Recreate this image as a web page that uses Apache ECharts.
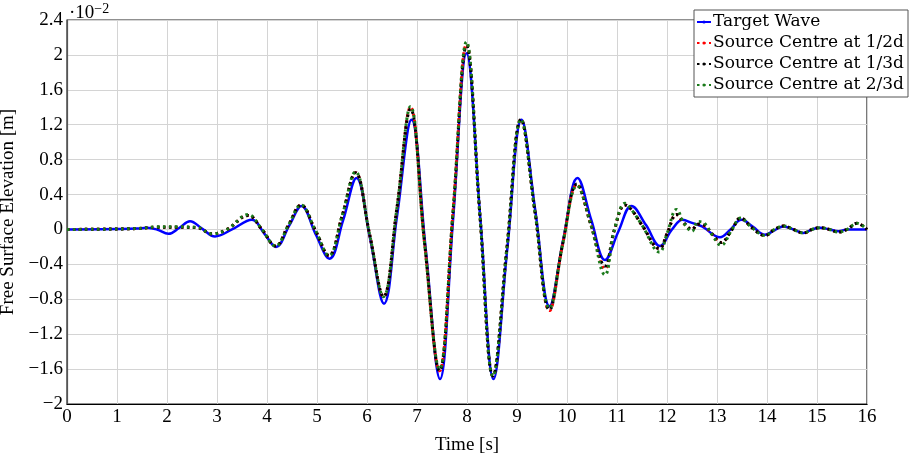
<!DOCTYPE html>
<html>
<head>
<meta charset="utf-8">
<script src="https://cdn.jsdelivr.net/npm/echarts@6/dist/echarts.min.js"></script>
<style>
  html, body { margin: 0; padding: 0; background: #fff; }
  #chart { width: 910px; height: 458px; }
</style>
</head>
<body>
<div id="chart"></div>
<script>
// values in units of 1e-2 m
let targetT = [0, 1.0, 1.4, 1.6, 1.8, 2.03, 2.25, 2.46, 2.7, 2.96, 3.3, 3.7, 3.95, 4.18, 4.45, 4.69, 4.97, 5.25, 5.52, 5.79, 6.06, 6.34, 6.6, 6.89, 7.17, 7.46, 7.72, 7.99, 8.27, 8.53, 8.81, 9.09, 9.37, 9.65, 9.93, 10.21, 10.49, 10.76, 11.03, 11.29, 11.58, 11.86, 12.1, 12.31, 12.5, 12.7, 13.06, 13.27, 13.49, 13.72, 13.96, 14.15, 14.33, 14.53, 14.73, 14.9, 15.06, 15.25, 15.43, 15.6, 16];
let targetV = [0, 0.005, 0.01, 0.02, 0.0, -0.05, 0.02, 0.095, 0.01, -0.08, 0.0, 0.11, -0.05, -0.2, 0.05, 0.27, -0.05, -0.335, 0.1, 0.59, -0.1, -0.85, 0.15, 1.257, -0.2, -1.714, 0.1, 2.02, 0.1, -1.714, -0.2, 1.257, 0.2, -0.88, -0.1, 0.59, 0.1, -0.35, -0.02, 0.27, 0.05, -0.19, 0.0, 0.11, 0.075, 0.035, -0.09, 0.0, 0.11, 0.03, -0.06, -0.01, 0.035, 0.0, -0.04, 0.0, 0.02, 0.0, -0.02, 0, 0];

let srcT = [0, 1.4, 1.8, 2.2, 2.6, 2.9, 3.2, 3.62, 3.9, 4.17, 4.43, 4.68, 4.96, 5.24, 5.5, 5.77, 6.05, 6.33, 6.6, 6.87, 7.15, 7.45, 7.72, 7.99, 8.26, 8.52, 8.8, 9.08, 9.36, 9.65, 9.92, 10.2, 10.48, 10.76, 10.95, 11.16, 11.3, 11.5, 11.85, 12.0, 12.19, 12.35, 12.5, 12.62, 12.75, 12.9, 13.08, 13.3, 13.47, 13.7, 13.96, 14.15, 14.33, 14.53, 14.73, 14.9, 15.06, 15.25, 15.43, 15.6, 15.8, 16];
let halfV = [0, 0.01, 0.025, 0.025, 0.02, -0.05, 0.0, 0.16, 0.0, -0.19, 0.05, 0.28, 0.0, -0.3, 0.15, 0.65, -0.05, -0.77, 0.25, 1.40, -0.15, -1.62, 0.2, 2.12, 0.15, -1.68, -0.2, 1.26, 0.2, -0.93, -0.15, 0.51, 0.05, -0.45, 0.0, 0.28, 0.22, 0.05, -0.22, -0.05, 0.17, 0.06, 0.0, 0.06, 0.04, -0.05, -0.15, 0.0, 0.13, 0.02, -0.07, 0.0, 0.04, 0.0, -0.04, 0.0, 0.02, 0.0, -0.03, 0.0, 0.07, 0.0];
let thirdV = [0, 0.01, 0.025, 0.025, 0.02, -0.05, 0.0, 0.16, 0.0, -0.19, 0.05, 0.28, 0.0, -0.3, 0.15, 0.65, -0.05, -0.77, 0.25, 1.38, -0.15, -1.62, 0.2, 2.1, 0.15, -1.68, -0.2, 1.26, 0.2, -0.92, -0.15, 0.52, 0.05, -0.42, 0.0, 0.28, 0.22, 0.05, -0.22, -0.05, 0.17, 0.07, 0.0, 0.06, 0.05, -0.05, -0.15, 0.0, 0.13, 0.02, -0.07, 0.0, 0.04, 0.0, -0.04, 0.0, 0.02, 0.0, -0.03, 0.0, 0.07, 0.0];
let twoThirdV = [0, 0.01, 0.03, 0.03, 0.025, -0.05, 0.0, 0.17, 0.0, -0.19, 0.05, 0.28, 0.0, -0.3, 0.15, 0.66, -0.05, -0.77, 0.25, 1.41, -0.15, -1.6, 0.2, 2.15, 0.15, -1.68, -0.2, 1.26, 0.2, -0.9, -0.15, 0.5, 0.05, -0.52, 0.0, 0.3, 0.22, 0.05, -0.26, -0.05, 0.23, 0.06, -0.02, 0.09, 0.07, -0.06, -0.18, 0.0, 0.13, 0.02, -0.07, 0.0, 0.04, 0.0, -0.04, 0.0, 0.02, 0.0, -0.03, 0.0, 0.07, 0.0];

function zip(t, v) {
    return t.map((x, i) => [x, v[i]]);
}

let serif = 'Liberation Serif';

function fmt(v) {
    let r = Math.round(v * 10) / 10;
    return r < 0 ? '\u2212' + Math.abs(r) : String(r);
}

let chartDom = document.getElementById('chart');
let myChart = echarts.init(chartDom);

function dotted(name, color, data) {
    return {
        name: name,
        type: 'line',
        smooth: 0.4,
        symbol: 'none',
        data: data,
        lineStyle: {
            color: color,
            width: 3,
            type: [2.5, 3.5],
            cap: 'butt'
        },
        itemStyle: { color: color }
    };
}

let option = {
    animation: false,
    title: {
        text: '{a|\u00b710}{b|\u22122}',
        left: 64,
        top: -3,
        textStyle: {
            fontWeight: 'normal',
            rich: {
                a: { fontFamily: serif, fontSize: 19, color: '#000', fontWeight: 'normal' },
                b: { fontFamily: serif, fontSize: 14, color: '#000', fontWeight: 'normal', verticalAlign: 'top', padding: [0, 0, 8, 0] }
            }
        }
    },
    legend: {
        orient: 'vertical',
        right: 2,
        top: 10,
        itemWidth: 14,
        itemHeight: 4,
        itemGap: 1,
        padding: [2, 4, 2, 2],
        backgroundColor: '#fff',
        borderColor: '#555',
        borderWidth: 1,
        textStyle: { fontFamily: 'DejaVu Serif', fontSize: 17, lineHeight: 20, color: '#000', padding: [0, 0, 0, -3] },
        data: ['Target Wave', 'Source Centre at 1/2d', 'Source Centre at 1/3d', 'Source Centre at 2/3d']
    },
    grid: {
        left: 67,
        right: 43,
        top: 20,
        bottom: 54,
        outerBoundsMode: 'none',
        containLabel: false,
        show: true,
        borderColor: '#222',
        borderWidth: 1.2
    },
    xAxis: {
        type: 'value',
        min: 0,
        max: 16,
        interval: 1,
        name: 'Time [s]',
        nameLocation: 'middle',
        nameGap: 32,
        nameTextStyle: { fontFamily: serif, fontSize: 19, color: '#000' },
        axisLine: { onZero: false, lineStyle: { color: '#000', width: 1.2 } },
        axisTick: { show: false },
        axisLabel: { fontFamily: serif, fontSize: 19, color: '#000', margin: 4 },
        splitLine: { lineStyle: { color: '#d4d4d4', width: 1 } }
    },
    yAxis: {
        type: 'value',
        min: -2,
        max: 2.4,
        interval: 0.4,
        name: 'Free Surface Elevation [m]',
        nameLocation: 'middle',
        nameGap: 48,
        nameTextStyle: { fontFamily: serif, fontSize: 19, color: '#000' },
        axisLine: { onZero: false, lineStyle: { color: '#555', width: 1.2 } },
        axisTick: { show: false },
        axisLabel: { fontFamily: serif, fontSize: 19, color: '#000', margin: 4, formatter: fmt },
        splitLine: { lineStyle: { color: '#d4d4d4', width: 1 } }
    },
    series: [
        {
            name: 'Target Wave',
            type: 'line',
            smooth: 0.4,
            symbol: 'none',
            data: zip(targetT, targetV),
            lineStyle: { color: '#0000ff', width: 2.5 },
            itemStyle: { color: '#0000ff' }
        },
        dotted('Source Centre at 1/2d', '#ff0000', zip(srcT, halfV)),
        dotted('Source Centre at 1/3d', '#000000', zip(srcT, thirdV)),
        dotted('Source Centre at 2/3d', '#1a7a1a', zip(srcT, twoThirdV))
    ]
};
option && myChart.setOption(option);
</script>
</body>
</html>
